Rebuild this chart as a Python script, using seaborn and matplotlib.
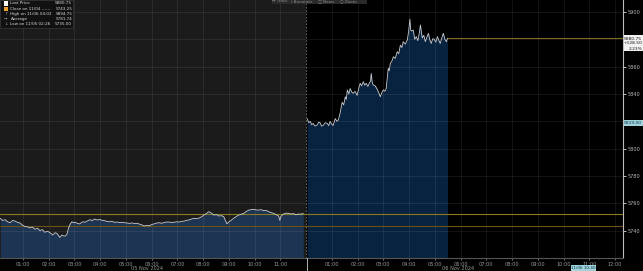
import numpy as np
import pandas as pd
import matplotlib
matplotlib.use("Agg")
import matplotlib.pyplot as plt
import seaborn as sns
from matplotlib.patches import Rectangle

# ---------------- data ----------------
nov5_hours = [0.12, 0.20, 0.31, 0.40, 0.50, 0.60, 0.69, 0.80, 0.89, 0.98, 1.08, 1.17, 1.27, 1.36,
              1.47, 1.56, 1.66, 1.75, 1.85, 1.95, 2.05, 2.16, 2.24, 2.32, 2.43, 2.51, 2.57, 2.63,
              2.70, 2.78, 2.84, 2.90, 2.96, 3.01, 3.10, 3.20, 3.26, 3.32, 3.42, 3.51, 3.60, 3.69,
              3.78, 3.88, 3.98, 4.07, 4.17, 4.26, 4.36, 4.46, 4.56, 4.65, 4.75, 4.85, 4.94, 5.04,
              5.14, 5.23, 5.33, 5.43, 5.52, 5.62, 5.71, 5.81, 5.91, 6.00, 6.10, 6.20, 6.29, 6.39,
              6.49, 6.58, 6.68, 6.78, 6.87, 6.97, 7.07, 7.16, 7.26, 7.36, 7.45, 7.55, 7.64, 7.74,
              7.84, 7.94, 8.03, 8.13, 8.22, 8.32, 8.42, 8.52, 8.61, 8.71, 8.80, 8.86, 8.92, 9.00,
              9.07, 9.17, 9.27, 9.33, 9.38, 9.48, 9.58, 9.67, 9.77, 9.86, 9.96, 10.06, 10.15,
              10.25, 10.35, 10.44, 10.54, 10.64, 10.73, 10.83, 10.93, 10.98, 11.02, 11.12, 11.22,
              11.31, 11.41, 11.51, 11.60, 11.70, 11.80, 11.89]
nov5_price = [5749.0, 5747.5, 5748.0, 5746.5, 5745.8, 5747.5, 5747.0, 5746.0, 5745.5, 5744.0,
              5743.0, 5742.8, 5742.0, 5742.6, 5741.0, 5741.8, 5740.0, 5740.8, 5738.8, 5739.6,
              5738.5, 5736.8, 5738.5, 5738.0, 5735.0, 5736.8, 5736.2, 5736.0, 5737.0, 5742.5,
              5745.0, 5746.5, 5745.8, 5746.2, 5745.5, 5744.9, 5745.8, 5746.5, 5746.2, 5747.2,
              5748.0, 5747.4, 5748.5, 5747.8, 5748.2, 5747.6, 5747.3, 5746.8, 5746.5, 5746.9,
              5746.0, 5746.4, 5745.9, 5746.1, 5745.8, 5745.6, 5745.3, 5745.7, 5745.2, 5745.4,
              5744.8, 5744.2, 5743.4, 5743.8, 5743.6, 5744.5, 5745.0, 5745.6, 5745.8, 5745.4,
              5746.0, 5746.3, 5746.3, 5745.9, 5746.2, 5746.5, 5746.3, 5746.8, 5747.0, 5747.6,
              5747.8, 5748.5, 5749.0, 5748.8, 5749.2, 5750.2, 5751.4, 5752.6, 5753.9, 5752.8,
              5751.4, 5751.8, 5750.7, 5751.0, 5750.2, 5747.5, 5745.0, 5746.5, 5747.3, 5748.9,
              5750.2, 5750.9, 5751.4, 5752.0, 5752.7, 5754.0, 5755.0, 5755.4, 5755.6, 5755.2,
              5755.0, 5755.4, 5754.6, 5754.9, 5753.9, 5753.2, 5752.7, 5751.8, 5750.7, 5747.5,
              5750.5, 5752.2, 5752.8, 5752.7, 5752.2, 5752.5, 5751.6, 5752.2, 5752.0, 5752.7]

nov6_hours = [0.04, 0.10, 0.16, 0.22, 0.27, 0.35, 0.43, 0.49, 0.54, 0.60, 0.66, 0.74, 0.82, 0.88,
              0.93, 0.99, 1.05, 1.13, 1.20, 1.25, 1.32, 1.40, 1.46, 1.52, 1.56, 1.60, 1.66, 1.71,
              1.77, 1.83, 1.90, 1.98, 2.04, 2.10, 2.16, 2.22, 2.28, 2.33, 2.40, 2.45, 2.50, 2.53,
              2.57, 2.61, 2.68, 2.76, 2.82, 2.88, 2.94, 3.00, 3.06, 3.11, 3.19, 3.23, 3.27, 3.33,
              3.39, 3.46, 3.54, 3.60, 3.66, 3.72, 3.77, 3.85, 3.93, 3.98, 4.03, 4.06, 4.09, 4.16,
              4.22, 4.28, 4.34, 4.40, 4.44, 4.51, 4.57, 4.63, 4.69, 4.75, 4.80, 4.86, 4.92, 4.98,
              5.04, 5.10, 5.16, 5.21, 5.27, 5.33, 5.39, 5.45, 5.49]
nov6_price = [5822.0, 5819.0, 5820.0, 5817.5, 5818.5, 5816.5, 5817.3, 5819.5, 5819.0, 5816.5,
              5817.0, 5819.0, 5818.5, 5816.8, 5820.0, 5818.0, 5817.0, 5822.0, 5820.0, 5821.0,
              5826.0, 5834.0, 5832.0, 5838.0, 5836.0, 5843.0, 5840.0, 5844.0, 5841.5, 5840.5,
              5842.0, 5839.0, 5844.0, 5847.8, 5846.0, 5849.0, 5846.5, 5847.8, 5845.5, 5847.8,
              5849.5, 5855.0, 5848.0, 5846.6, 5846.0, 5843.5, 5841.0, 5838.0, 5841.0, 5843.0,
              5842.0, 5844.0, 5858.8, 5857.0, 5862.4, 5864.0, 5867.3, 5866.0, 5871.0, 5869.5,
              5875.8, 5874.0, 5878.3, 5876.5, 5879.5, 5885.6, 5894.75, 5887.0, 5886.0, 5886.8,
              5880.0, 5882.0, 5879.0, 5885.0, 5890.5, 5881.0, 5883.0, 5878.3, 5881.5, 5884.4,
              5880.0, 5877.0, 5880.5, 5880.0, 5878.0, 5882.0, 5879.0, 5877.0, 5881.0, 5884.4,
              5880.0, 5878.3, 5880.75]

y_ticks = [5740, 5760, 5780, 5800, 5820, 5840, 5860, 5880, 5900]
y_tick_labels = ["5740", "5760", "5780", "5800", "", "5840", "5860", "", "5900"]  # two hidden by value boxes
nov5_tick_hours = [1, 2, 3, 4, 5, 6, 7, 8, 9, 10, 11]
nov6_tick_hours = [1, 2, 3, 4, 5, 6, 7, 8, 9, 10, 11, 12]

last_price = 5880.75
prev_close = 5752.25
close_1104 = 5743.25

legend_rows = [("Last Price", "5880.75"),
               ("Close on 11/04 ------", "5743.25"),
               ("High on 11/06 04:02", "5894.75"),
               ("Average", "5781.74"),
               ("Low on 11/05 02:26", "5735.00")]

# ---------------- build frame ----------------
df5 = pd.DataFrame({"pos": nov5_hours, "price": nov5_price, "session": "05 Nov"})
df6 = pd.DataFrame({"pos": [12 + h for h in nov6_hours], "price": nov6_price, "session": "06 Nov"})
df = pd.concat([df5, df6], ignore_index=True)

W, H = 643, 271
sns.set_theme(style="dark")
plt.rcParams['font.family'] = ['DejaVu Sans']
fig = plt.figure(figsize=(W / 100, H / 100), dpi=100, facecolor="#000000")
ax = fig.add_axes([0, 13 / H, 623 / W, 1 - 13 / H])
ax.set_facecolor("#000000")

x0, x1 = 0.106, 24.31
ymin, ymax = 5720.0, 5908.8
ax.set_xlim(x0, x1)
ax.set_ylim(ymin, ymax)

# left session background
ax.axvspan(x0, 12, color="#1b1b1b", zorder=0, lw=0)

# fills
ax.fill_between(df5["pos"], df5["price"], ymin, color="#1d3452", lw=0, zorder=1)
ax.fill_between(df6["pos"], df6["price"], ymin, color="#08233f", lw=0, zorder=1)

# grid
xt = nov5_tick_hours + [12 + h for h in nov6_tick_hours]
for p in xt:
    ax.axvline(p, color="#ffffff", alpha=0.09, lw=0.6, zorder=1.5)
for v in y_ticks:
    ax.axhline(v, color="#ffffff", alpha=0.09, lw=0.6, zorder=1.5)

# reference lines
ax.axhline(prev_close, color="#8a7a22", lw=0.8, zorder=2)
ax.axhline(close_1104, color="#6a5218", lw=0.8, zorder=2)
ax.plot([df6["pos"].iloc[-1], x1], [last_price, last_price], color="#7a6a20", lw=0.8, zorder=2)
ax.axvline(12, color="#777777", lw=0.6, ls=(0, (2, 2)), zorder=2)

# price line
sns.lineplot(data=df, x="pos", y="price", units="session", estimator=None,
             color="#c9ced4", lw=0.6, ax=ax, zorder=3, legend=False)

# axes styling
ax.set_xlabel("")
ax.set_ylabel("")
ax.set_xticks(xt)
ax.set_xticklabels([f"{h:02d}:00" for h in nov5_tick_hours] + [f"{h:02d}:00" for h in nov6_tick_hours])
ax.tick_params(axis="x", colors="#9a9a9a", labelsize=3.6, length=1.5, width=0.5, pad=1.2,
               bottom=True, labelcolor="#9a9a9a")
ax.yaxis.tick_right()
ax.set_yticks(y_ticks)
ax.set_yticklabels(y_tick_labels)
ax.tick_params(axis="y", colors="#e0e0e0", labelsize=3.6, length=2, width=0.6, pad=1.5,
               right=True, labelcolor="#bdbdbd")
for s in ["top", "left"]:
    ax.spines[s].set_visible(False)
ax.spines["right"].set_color("#bbbbbb")
ax.spines["right"].set_linewidth(0.8)
ax.spines["bottom"].set_color("#555555")
ax.spines["bottom"].set_linewidth(0.8)
ax.grid(False)

def fx(px):
    return px / W

def fy(py):
    return 1 - py / H

# date labels
fig.text(fx(147), fy(268), "05 Nov 2024", color="#9a9a9a", fontsize=3.6, ha="center", va="center")
fig.text(fx(458), fy(268), "06 Nov 2024", color="#9a9a9a", fontsize=3.6, ha="center", va="center")
fig.add_artist(plt.Line2D([fx(307), fx(307)], [fy(258), fy(271)], color="#cccccc", lw=0.6))

# legend box
fig.patches.append(Rectangle((fx(0), fy(28)), fx(73), 28 / H, transform=fig.transFigure,
                             facecolor="#111111", edgecolor="#3a3a3a", lw=0.5, zorder=5))
icon_cols = ["#ffffff", "#f0a030", None, None, None]
icon_chars = [None, None, "\u2191", "\u2192", "\u2193"]
for i, (lab, val) in enumerate(legend_rows):
    yy = 3.5 + i * 5.1
    if icon_cols[i]:
        fig.patches.append(Rectangle((fx(3.5), fy(yy + 2)), fx(4), 4 / H, transform=fig.transFigure,
                                     facecolor=icon_cols[i], edgecolor="none", zorder=6))
    else:
        fig.text(fx(5.5), fy(yy), icon_chars[i], color="#aaaaaa", fontsize=3.0, ha="center",
                 va="center", zorder=6)
    fig.text(fx(10.5), fy(yy), lab, color="#d8d8d8", fontsize=3.0, ha="left", va="center", zorder=6)
    fig.text(fx(72), fy(yy), val, color="#d8d8d8", fontsize=3.0, ha="right", va="center", zorder=6)

# toolbar (top, partly clipped)
fig.patches.append(Rectangle((fx(272), fy(4)), fx(95), 4 / H, transform=fig.transFigure,
                             facecolor="#2a2a2a", edgecolor="none", zorder=5))
for px, t in [(280, "\u2194 Track"), (302, "\u2215 Annotate"), (326, "\u25a1 News"), (348, "\u25cb Zoom")]:
    fig.text(fx(px), fy(1.5), t, color="#8a8a8a", fontsize=3.0, ha="center", va="center", zorder=6)

# right axis value boxes
fig.patches.append(Rectangle((fx(624), fy(51)), fx(19), 16 / H, transform=fig.transFigure,
                             facecolor="#f2f2f2", edgecolor="none", zorder=6))
for i, t in enumerate(["5880.75", "+128.50", "2.23%"]):
    fig.text(fx(642), fy(38.5 + i * 5), t, color="#111111", fontsize=3.2, ha="right", va="center", zorder=7)
fig.patches.append(Rectangle((fx(624), fy(126)), fx(19), 6 / H, transform=fig.transFigure,
                             facecolor="#9ed3dc", edgecolor="none", zorder=6))
fig.text(fx(633), fy(123), "5819.00", color="#0d3040", fontsize=3.2, ha="center", va="center", zorder=7)
fig.patches.append(Rectangle((fx(571), fy(271)), fx(25), 6 / H, transform=fig.transFigure,
                             facecolor="#9ed3dc", edgecolor="none", zorder=6))
fig.text(fx(583.5), fy(268), "11/06 10:40", color="#0d3040", fontsize=3.0, ha="center", va="center", zorder=7)

fig.savefig("out.png", dpi=100, facecolor=fig.get_facecolor())
